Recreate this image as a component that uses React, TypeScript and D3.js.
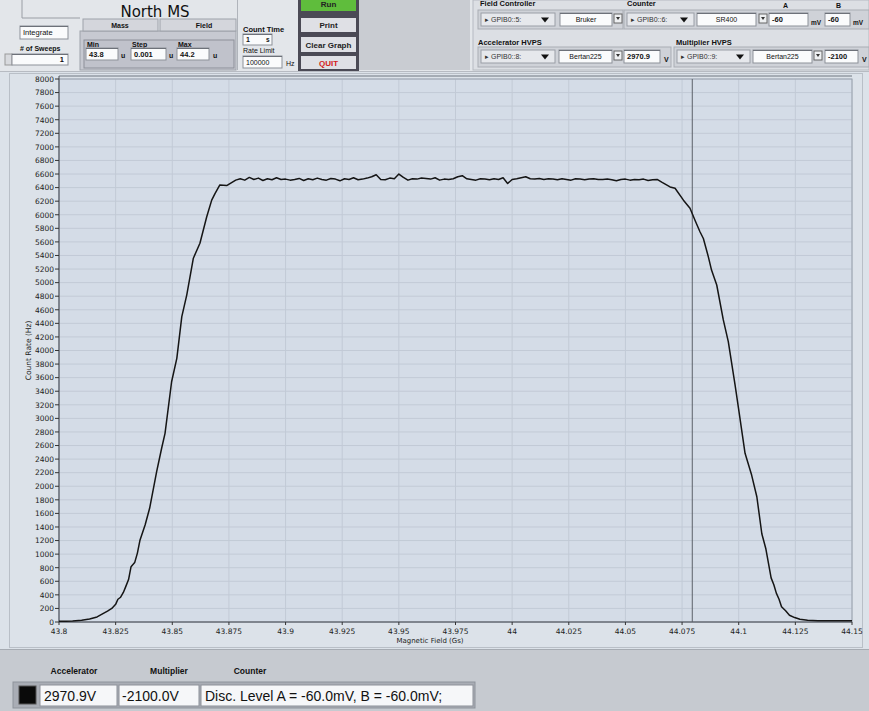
import React from 'react';
import * as d3 from 'd3';

// ---------- data ----------
const fieldGs = [
  43.8, 43.803, 43.806, 43.81, 43.8135, 43.8168, 43.819, 43.8214, 43.8233, 43.825,
  43.826, 43.8272, 43.8284, 43.8295, 43.8307, 43.8318, 43.8334, 43.8346, 43.8357, 43.838,
  43.84, 43.8431, 43.8453, 43.8468, 43.8497, 43.852, 43.8542, 43.8564, 43.8593, 43.8622,
  43.8652, 43.8674, 43.8689, 43.871, 43.874, 43.876, 43.878, 43.88, 43.882, 43.884,
  43.886, 43.888, 43.89, 43.892, 43.894, 43.896, 43.898, 43.9, 43.902, 43.904,
  43.906, 43.908, 43.91, 43.912, 43.914, 43.916, 43.918, 43.92, 43.922, 43.924,
  43.926, 43.928, 43.93, 43.932, 43.934, 43.936, 43.938, 43.94, 43.942, 43.944,
  43.946, 43.948, 43.95, 43.952, 43.954, 43.956, 43.958, 43.96, 43.962, 43.964,
  43.966, 43.968, 43.97, 43.972, 43.974, 43.976, 43.978, 43.98, 43.982, 43.984,
  43.986, 43.988, 43.99, 43.992, 43.994, 43.996, 43.998, 44.0, 44.002, 44.004,
  44.006, 44.008, 44.01, 44.012, 44.014, 44.016, 44.018, 44.02, 44.022, 44.024,
  44.026, 44.028, 44.03, 44.032, 44.034, 44.036, 44.038, 44.04, 44.042, 44.044,
  44.046, 44.048, 44.05, 44.052, 44.054, 44.056, 44.058, 44.06, 44.062, 44.064,
  44.066, 44.0697, 44.0719, 44.0756, 44.0785, 44.0807, 44.0829, 44.0844, 44.0866, 44.088,
  44.0903, 44.0932, 44.0954, 44.0984, 44.0999, 44.1028, 44.1057, 44.108, 44.1102, 44.112,
  44.1143, 44.1155, 44.1166, 44.1178, 44.1189, 44.1207, 44.1224, 44.1247, 44.127, 44.1304,
  44.135, 44.14, 44.145, 44.15,
];
const countRate = [
  10, 12, 15, 25, 45, 75, 115, 160, 200, 260,
  335, 365, 435, 525, 625, 815, 875, 1015, 1200, 1430,
  1675, 2215, 2560, 2780, 3540, 3885, 4500, 4820, 5360, 5580,
  5970, 6215, 6315, 6440, 6430, 6470, 6510, 6530, 6510, 6550,
  6520, 6540, 6505, 6530, 6515, 6545, 6520, 6525, 6510, 6520,
  6535, 6505, 6530, 6515, 6540, 6520, 6510, 6535, 6525, 6500,
  6530, 6520, 6545, 6515, 6525, 6540, 6560, 6590, 6520, 6515,
  6540, 6530, 6600, 6550, 6510, 6530, 6525, 6540, 6535, 6525,
  6545, 6510, 6525, 6520, 6530, 6560, 6575, 6530, 6520, 6510,
  6530, 6525, 6515, 6530, 6520, 6545, 6460, 6520, 6530, 6545,
  6560, 6530, 6525, 6535, 6520, 6530, 6525, 6515, 6530, 6520,
  6510, 6530, 6525, 6515, 6525, 6530, 6520, 6520, 6525, 6515,
  6500, 6520, 6525, 6510, 6520, 6515, 6525, 6505, 6515, 6520,
  6480, 6410, 6390, 6215, 6095, 5920, 5750, 5650, 5380, 5185,
  4965, 4450, 4130, 3490, 3150, 2485, 2165, 1845, 1300, 1075,
  650, 550, 425, 335, 225, 165, 100, 65, 40, 25,
  20, 18, 18, 18,
];
const xTickValues = [43.8, 43.825, 43.85, 43.875, 43.9, 43.925, 43.95, 43.975, 44, 44.025, 44.05, 44.075, 44.1, 44.125, 44.15];
const yTickValues = d3.range(0, 8001, 200);
const cursorField = [44.0795];
const xDomain = [43.8, 44.15];
const yDomain = [0, 8000];

const UI = 'Liberation Sans, Arial, sans-serif';
const TAH = 'DejaVu Sans, Verdana, sans-serif';

function Box({ x, y, w, h, text, anchor = 'start', bold = false, fs = 8, fill = '#fafbfc', color = '#111' }: any) {
  const tx = anchor === 'end' ? x + w - 4 : anchor === 'middle' ? x + w / 2 : x + 3;
  return (
    <g>
      <rect x={x} y={y} width={w} height={h} fill={fill} stroke="#8d9199" strokeWidth={1} />
      <line x1={x} y1={y + 0.5} x2={x + w} y2={y + 0.5} stroke="#6d7179" />
      <text x={tx} y={y + h / 2 + fs * 0.36} fontSize={fs} fontFamily={UI} fontWeight={bold ? 700 : 400} textAnchor={anchor} fill={color}>{text}</text>
    </g>
  );
}

function Ring({ x, y, w, h, text }: any) {
  return (
    <g>
      <rect x={x} y={y} width={w} height={h} fill="#e6e8ec" stroke="#9a9ea6" />
      <text x={x + 4} y={y + h / 2 + 2.6} fontSize={7} fontFamily={UI} fill="#333">{'\u25B8 ' + text}</text>
      <path d={`M${x + w - 14},${y + h / 2 - 2} l8,0 l-4,5 z`} fill="#111" />
    </g>
  );
}

function SmallBtn({ x, y }: any) {
  return (
    <g>
      <rect x={x} y={y} width={8} height={9} fill="#eef0f2" stroke="#666" />
      <path d={`M${x + 2},${y + 3} l4,0 l-2,3 z`} fill="#333" />
    </g>
  );
}

function Label({ x, y, text, bold = true, fs = 7.5, anchor = 'start', color = '#111', family = UI }: any) {
  return <text x={x} y={y} fontSize={fs} fontFamily={family} fontWeight={bold ? 700 : 400} textAnchor={anchor} fill={color}>{text}</text>;
}

function Button({ x, y, w, h, text, fill = '#dfe0e5', color = '#222' }: any) {
  return (
    <g>
      <rect x={x} y={y} width={w} height={h} fill={fill} stroke="#4b4a55" strokeWidth={2} />
      <text x={x + w / 2} y={y + h / 2 + 3} fontSize={8} fontFamily={UI} fontWeight={700} textAnchor="middle" fill={color}>{text}</text>
    </g>
  );
}

export default function App() {
  const W = 869, H = 711;
  const pl = 59, pr = 852, pt = 79, pb = 622;
  const x = d3.scaleLinear().domain(xDomain).range([pl, pr]);
  const y = d3.scaleLinear().domain(yDomain).range([pb, pt]);
  const pts = fieldGs.map((f, i) => [f, countRate[i]] as [number, number]);
  const line = d3.line<[number, number]>().x(d => x(d[0])).y(d => y(d[1]));
  const fmtX = (v: number) => String(+v.toFixed(3));

  return (
    <svg width={W} height={H} style={{ position: 'fixed', left: 0, top: 0, display: 'block' }}>
      <rect x={0} y={0} width={W} height={H} fill="#dde2e8" />

      {/* ===== top panel ===== */}
      <rect x={0} y={0} width={W} height={72} fill="#e3e6ea" />
      <rect x={358} y={0} width={112} height={70} fill="#c9ccd2" />
      <line x1={0} y1={71.5} x2={W} y2={71.5} stroke="#b7bbc2" />
      <path d="M22,0 L22,18 L80,18" fill="none" stroke="#9a9ea5" />
      <text x={155} y={17} fontSize={15} fontFamily={TAH} textAnchor="middle" fill="#111">North MS</text>
      <Box x={20} y={26} w={48} h={13} text="Integrate" fs={7.5} />
      <Label x={20} y={51} text="# of Sweeps" fs={7} />
      <rect x={5} y={54} width={7} height={11} fill="#d8dade" stroke="#999" />
      <Box x={12} y={54} w={56} h={11} text="1" anchor="end" bold fs={7.5} />
      <rect x={80} y={31} width={156} height={39} fill="#c7c9d1" stroke="#9ea2aa" />
      <rect x={83} y={19} width={75} height={12} fill="#d4d6dc" stroke="#9ea2aa" />
      <rect x={160} y={19} width={76} height={12} fill="#d4d6dc" stroke="#9ea2aa" />
      <Label x={120} y={28} text="Mass" anchor="middle" fs={7} />
      <Label x={204} y={28} text="Field" anchor="middle" fs={7} />
      <rect x={84} y={40} width={150} height={28} fill="#c0c2cb" stroke="#8d9099" />
      <Label x={87} y={47} text="Min" fs={7} />
      <Label x={132} y={47} text="Step" fs={7} />
      <Label x={178} y={47} text="Max" fs={7} />
      <Box x={86} y={48} w={32} h={12} text="43.8" bold fs={7.5} />
      <Label x={121} y={58} text="u" fs={7} />
      <Box x={131} y={48} w={35} h={12} text="0.001" bold fs={7.5} />
      <Label x={169} y={58} text="u" fs={7} />
      <Box x={177} y={48} w={32} h={12} text="44.2" bold fs={7.5} />
      <Label x={213} y={58} text="u" fs={7} />
      <line x1={237.5} y1={0} x2={237.5} y2={70} stroke="#b0b4bb" />
      <Label x={243} y={32} text="Count Time" fs={7.5} />
      <Box x={243} y={34} w={29} h={11} text="1" bold fs={7} />
      <Label x={266} y={42} text="s" fs={6.5} />
      <Label x={243} y={53} text="Rate Limit" bold={false} fs={7} />
      <Box x={243} y={56} w={39} h={12} text="100000" fs={7} />
      <Label x={286} y={66} text="Hz" bold={false} fs={7} />
      <rect x={298} y={0} width={61} height={71} fill="#4b4a55" />
      <Button x={300} y={-4} w={57} h={16} text="Run" fill="#5fbd3c" />
      <Button x={300} y={17} w={57} h={16} text="Print" />
      <Button x={300} y={36} w={57} h={17} text="Clear Graph" />
      <Button x={300} y={55} w={57} h={15} text="QUIT" color="#d42020" />

      <rect x={473} y={0} width={396} height={70} fill="#dcdfe4" stroke="#b6bac1" />
      <Label x={480} y={6} text="Field Controller" fs={7.5} />
      <Label x={627} y={6} text="Counter" fs={7.5} />
      <Label x={783} y={8} text="A" fs={7} />
      <Label x={836} y={8} text="B" fs={7} />
      <rect x={478} y={10} width={145} height={19} fill="#cfd2d8" stroke="#a9adb4" />
      <rect x={624} y={10} width={245} height={19} fill="#cfd2d8" stroke="#a9adb4" />
      <Ring x={481} y={13} w={74} h={13} text="GPIB0::5:" />
      <Box x={560} y={13} w={52} h={13} text="Bruker" anchor="middle" fs={7} />
      <SmallBtn x={614} y={14} />
      <Ring x={627} y={13} w={67} h={13} text="GPIB0::6:" />
      <Box x={697} y={13} w={59} h={13} text="SR400" anchor="middle" fs={7} />
      <SmallBtn x={759} y={14} />
      <Box x={769} y={13} w={39} h={13} text="-60" bold fs={7.5} />
      <Label x={811} y={25} text="mV" fs={6.5} />
      <Box x={825} y={13} w={25} h={13} text="-60" bold fs={7.5} />
      <Label x={853} y={25} text="mV" fs={6.5} />

      <Label x={478} y={45} text="Accelerator HVPS" fs={7.5} />
      <Label x={676} y={45} text="Multiplier HVPS" fs={7.5} />
      <rect x={478} y={47} width={193} height={20} fill="#cfd2d8" stroke="#a9adb4" />
      <rect x={674} y={47} width={195} height={20} fill="#cfd2d8" stroke="#a9adb4" />
      <Ring x={481} y={50} w={74} h={13} text="GPIB0::8:" />
      <Box x={559} y={50} w={53} h={13} text="Bertan225" anchor="middle" fs={7} />
      <SmallBtn x={614} y={51} />
      <Box x={624} y={50} w={36} h={13} text="2970.9" bold fs={7.5} />
      <Label x={664} y={62} text="V" fs={7} />
      <Ring x={677} y={50} w={73} h={13} text="GPIB0::9:" />
      <Box x={753} y={50} w={59} h={13} text="Bertan225" anchor="middle" fs={7} />
      <SmallBtn x={814} y={51} />
      <Box x={825} y={50} w={33} h={13} text="-2100" bold fs={7.5} />
      <Label x={862} y={62} text="V" fs={7} />

      {/* ===== chart panel ===== */}
      <rect x={0} y={72} width={W} height={577} fill="#dce2e9" />
      <rect x={9.5} y={73.5} width={853} height={574} fill="none" stroke="#b9bfc7" />
      <rect x={pl} y={pt} width={pr - pl} height={pb - pt} fill="#d4dce7" />
      {yTickValues.map(v => (
        <line key={'gy' + v} x1={pl} x2={pr} y1={y(v)} y2={y(v)} stroke="#c2cad6" strokeWidth={1} />
      ))}
      {xTickValues.map(v => (
        <line key={'gx' + v} x1={x(v)} x2={x(v)} y1={pt} y2={pb} stroke="#c2cad6" strokeWidth={1} />
      ))}
      <rect x={pl} y={pt} width={pr - pl} height={pb - pt} fill="none" stroke="#9aa2ad" />
      <line x1={pl} y1={pt - 3} x2={pr} y2={pt - 3} stroke="#6f7680" strokeWidth={1} />
      <line x1={pl} y1={pt - 3} x2={pl} y2={pb} stroke="#4a4f57" strokeWidth={1} />
      <line x1={pl} y1={pb} x2={pr} y2={pb} stroke="#4a4f57" strokeWidth={1} />

      {yTickValues.map(v => (
        <g key={'ty' + v}>
          <line x1={pl - 4} x2={pl} y1={y(v)} y2={y(v)} stroke="#333" />
          <text x={pl - 5} y={y(v) + 2.8} fontSize={7.5} fontFamily={TAH} textAnchor="end" fill="#222">{v}</text>
        </g>
      ))}
      {xTickValues.map(v => (
        <g key={'tx' + v}>
          <line x1={x(v)} x2={x(v)} y1={pb} y2={pb + 3} stroke="#333" />
          <text x={x(v)} y={pb + 12} fontSize={7.5} fontFamily={TAH} textAnchor="middle" fill="#222">{fmtX(v)}</text>
        </g>
      ))}
      <text transform={`translate(31,${(pt + pb) / 2}) rotate(-90)`} fontSize={7.5} fontFamily={TAH} textAnchor="middle" fill="#222">Count Rate (Hz)</text>
      <text x={430} y={643} fontSize={7} fontFamily={TAH} textAnchor="middle" fill="#222">Magnetic Field (Gs)</text>

      {cursorField.map(c => (
        <line key={'c' + c} x1={x(c)} x2={x(c)} y1={pt} y2={pb} stroke="#5c6168" strokeWidth={1} />
      ))}
      <path d={line(pts) || ''} fill="none" stroke="#151515" strokeWidth={1.5} strokeLinejoin="round" />

      {/* ===== bottom panel ===== */}
      <rect x={0} y={649} width={W} height={62} fill="#c6cad0" />
      <line x1={0} y1={649.5} x2={W} y2={649.5} stroke="#a6abb2" />
      <Label x={74} y={674} text="Accelerator" anchor="middle" fs={8.5} />
      <Label x={169} y={674} text="Multiplier" anchor="middle" fs={8.5} />
      <Label x={250} y={674} text="Counter" anchor="middle" fs={8.5} />
      <rect x={13} y={682} width={462} height={26} fill="#a9adb5" stroke="#8e939b" />
      <rect x={19} y={686} width={17} height={18} fill="#0a0a0a" stroke="#555" />
      <rect x={40} y={685} width={77} height={21} fill="#f6f7f9" stroke="#8d9199" />
      <text x={44} y={701} fontSize={14} fontFamily={UI} fill="#111">2970.9V</text>
      <rect x={119} y={685} width={80} height={21} fill="#f6f7f9" stroke="#8d9199" />
      <text x={122} y={701} fontSize={14} fontFamily={UI} fill="#111">-2100.0V</text>
      <rect x={201} y={685} width={272} height={21} fill="#f6f7f9" stroke="#8d9199" />
      <text x={205} y={701} fontSize={14} fontFamily={UI} fill="#111">Disc. Level A = -60.0mV, B = -60.0mV;</text>
    </svg>
  );
}
